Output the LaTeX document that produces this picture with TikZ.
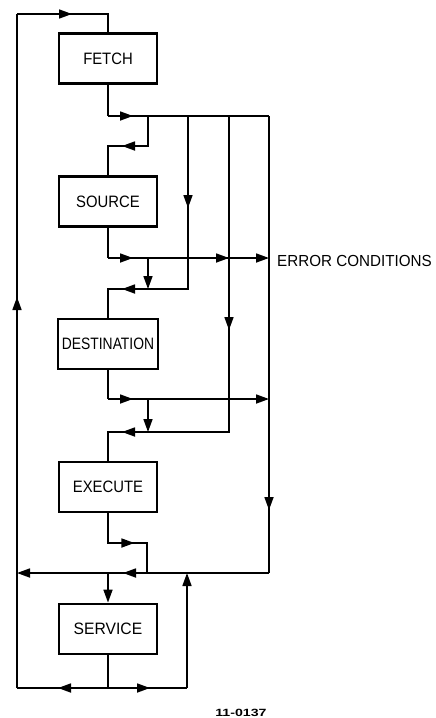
\documentclass[tikz,border=0pt]{standalone}
\usepackage{fontspec}
\setmainfont{Liberation Sans}
\usetikzlibrary{arrows.meta,decorations.markings}
\tikzset{
  conn/.style={line width=1.7pt},
  arrat/.style={postaction={decorate,decoration={markings,mark=at position #1 with {\arrow{Triangle[length=13pt,width=9pt]}}}}},
  endarr/.style={-{Triangle[length=13pt,width=9pt]}},
  blockbox/.style={draw,line width=2.8pt,minimum width=98pt,minimum height=50pt,inner sep=0pt,font=\fontsize{16.5}{16.5}\selectfont},
  lbl/.style={font=\fontsize{16}{16}\selectfont,inner sep=0pt}
}
\begin{document}
\begin{tikzpicture}[x=1pt,y=-1pt]
\useasboundingbox (0,0) rectangle (436,718);
\fill[white] (0,0) rectangle (436,718);
% blocks
\node[blockbox] (fetch) at (108,58.5) {\scalebox{0.9}[1]{FETCH}};
\node[blockbox] (source) at (108,201.5) {\scalebox{0.9}[1]{SOURCE}};
\node[blockbox,minimum width=100pt] (dest) at (108,344) {\scalebox{0.84}[1]{DESTINATION}};
\node[blockbox] (exec) at (108,487) {\scalebox{0.9}[1]{EXECUTE}};
\node[blockbox] (serv) at (108,629) {\scalebox{0.95}[1]{SERVICE}};
\node[lbl,anchor=west] (err) at (277,261) {\scalebox{0.95}[1]{ERROR CONDITIONS}};
\node[inner sep=0pt,font=\fontsize{10.5}{10.5}\selectfont\bfseries] (num) at (241,713) {\scalebox{1.35}[1]{11-0137}};
% junctions
\coordinate (tl) at (17,14);
\coordinate (tc) at (108,14);
\coordinate (f1) at (108,116);
\coordinate (fb) at (148,116);
\coordinate (fd) at (188,116);
\coordinate (fe) at (229,116);
\coordinate (fr) at (269,116);
\coordinate (s1) at (148,146);
\coordinate (s2) at (108,146);
\coordinate (sb) at (108,258);
\coordinate (sb1) at (148,258);
\coordinate (sr) at (269,258);
\coordinate (d1) at (108,289);
\coordinate (db) at (148,289);
\coordinate (dd) at (188,289);
\coordinate (db0) at (108,399);
\coordinate (db1) at (148,399);
\coordinate (dr) at (269,399);
\coordinate (e1) at (108,432);
\coordinate (eb) at (148,432);
\coordinate (ee) at (229,432);
\coordinate (x1) at (108,543);
\coordinate (x2) at (147,543);
\coordinate (x3) at (147,573);
\coordinate (r5) at (269,573);
\coordinate (c5) at (108,573);
\coordinate (l5) at (17,573);
\coordinate (v1) at (108,688);
\coordinate (vl) at (17,688);
\coordinate (vr) at (187,688);
\coordinate (vu) at (187,573);
% loop back
\draw[conn,arrat=50pt] (v1) -- (vl);
\draw[conn,arrat=391pt] (vl) -- (tl);
\draw[conn,arrat=55pt] (tl) -- (tc) -- (fetch.north);
% fetch out
\draw[conn] (fetch.south) -- (f1);
\draw[conn,arrat=25pt] (f1) -- (fr);
\draw[conn,arrat=394pt] (fr) -- (r5);
\draw[conn,arrat=146pt,endarr] (r5) -- (l5);
\draw[conn,arrat=56pt] (fb) -- (s1) -- (s2) -- (source.north);
\draw[conn,arrat=92pt,arrat=239pt] (fd) -- (dd) -- (d1) -- (dest.north);
\draw[conn,arrat=214pt,arrat=423pt] (fe) -- (ee) -- (e1) -- (exec.north);
% source out
\draw[conn] (source.south) -- (sb);
\draw[conn,arrat=25pt,arrat=121pt,endarr] (sb) -- (sr);
\draw[conn,endarr] (sb1) -- (db);
% destination out
\draw[conn] (dest.south) -- (db0);
\draw[conn,arrat=25pt,endarr] (db0) -- (dr);
\draw[conn,endarr] (db1) -- (eb);
% execute out
\draw[conn,arrat=56pt] (exec.south) -- (x1) -- (x2) -- (x3);
% service
\draw[conn,endarr] (c5) -- (serv.north);
\draw[conn] (serv.south) -- (v1);
\draw[conn,arrat=42pt] (v1) -- (vr);
\draw[conn,endarr] (vr) -- (vu);
\end{tikzpicture}
\end{document}
